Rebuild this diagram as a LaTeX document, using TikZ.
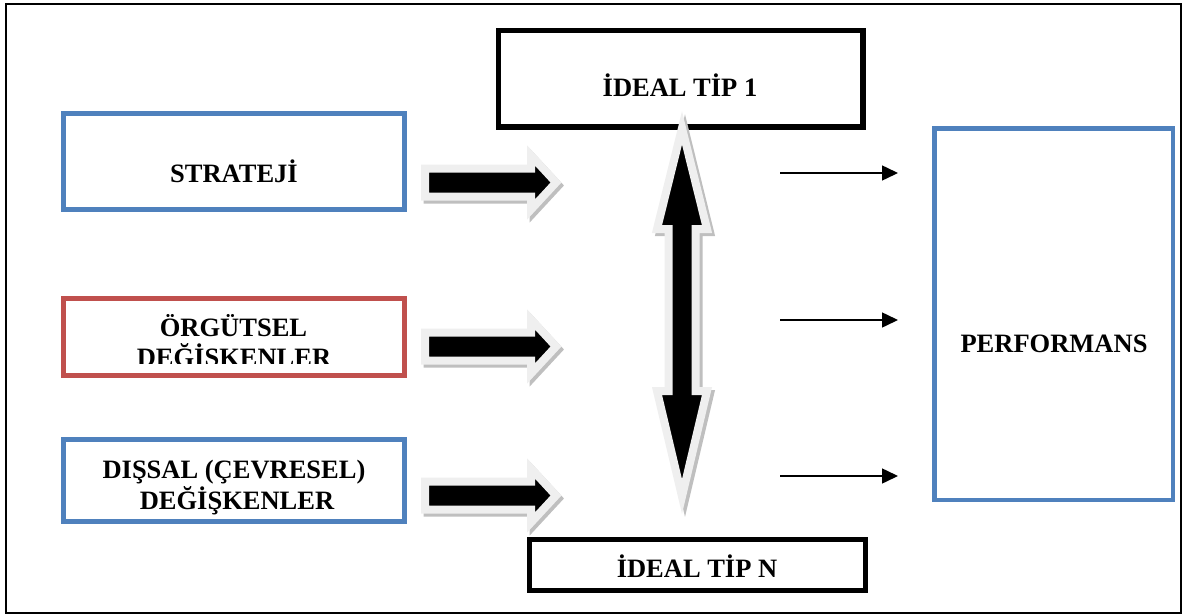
\documentclass[tikz,border=0pt]{standalone}
\usepackage{fontspec}
\setmainfont{Liberation Serif}
\usetikzlibrary{arrows.meta}
\definecolor{boxblue}{HTML}{4F81BD}
\definecolor{boxred}{HTML}{C0504D}
\definecolor{rim}{HTML}{EFEFEF}
\definecolor{shade}{HTML}{BFBFBF}
\begin{document}
\begin{tikzpicture}[x=1pt,y=-1pt,
  frame/.style={draw=black, line width=2pt},
  panel/.style={draw=#1, fill=white, inner sep=0pt, outer sep=0pt},
  bluepanel/.style={panel=boxblue, line width=4.5pt},
  redpanel/.style={panel=boxred, line width=5pt},
  blackpanel/.style={panel=black, line width=5.5pt},
  caption/.style={anchor=base, inner sep=0pt,
    font=\fontsize{26.5}{31}\selectfont\bfseries},
  link/.style={line width=1.5pt, -{Triangle[length=16pt,width=15pt]}},
  arrowshadow/.style={draw=shade, fill=shade, line width=8pt, line join=miter},
  arrowbody/.style={draw=rim, fill=black, line width=8pt, line join=miter},
  pics/blockarrow/.style={code={
    \begin{scope}[shift={(2.5,3)}]
      \path[arrowshadow] (-65.5,-14) -- (40.5,-14) -- (40.5,-27) -- (65.5,0)
        -- (40.5,27) -- (40.5,14) -- (-65.5,14) -- cycle;
    \end{scope}
    \path[arrowbody] (-65.5,-14) -- (40.5,-14) -- (40.5,-27) -- (65.5,0)
      -- (40.5,27) -- (40.5,14) -- (-65.5,14) -- cycle;
  }},
  pics/twowayarrow/.style={code={
    \begin{scope}[shift={(3,3)}]
      \path[arrowshadow] (0,-184.25) -- (25,-83.25) -- (13.5,-83.25)
        -- (13.5,78.75) -- (25,78.75) -- (0,184.25) -- (-25,78.75)
        -- (-13.5,78.75) -- (-13.5,-83.25) -- (-25,-83.25) -- cycle;
    \end{scope}
    \path[arrowbody] (0,-184.25) -- (25,-83.25) -- (13.5,-83.25)
      -- (13.5,78.75) -- (25,78.75) -- (0,184.25) -- (-25,78.75)
      -- (-13.5,78.75) -- (-13.5,-83.25) -- (-25,-83.25) -- cycle;
  }}
]
\useasboundingbox (0,0) rectangle (1187,616);
\draw[frame] (6,4) rectangle (1181,613);

% input boxes on the left
\node[bluepanel, minimum width=341pt, minimum height=96pt] (strateji) at (234,161.5) {};
\node[redpanel, minimum width=341pt, minimum height=77pt] (orgutsel) at (234,337) {};
\node[bluepanel, minimum width=341pt, minimum height=82pt] (dissal) at (234,480.5) {};

% ideal types and performance
\node[blackpanel, minimum width=364.5pt, minimum height=96.5pt] (tip1) at (680.75,78.75) {};
\node[blackpanel, minimum width=336pt, minimum height=51pt] (tipn) at (697.5,565) {};
\node[bluepanel, minimum width=238.5pt, minimum height=371.5pt] (perf) at (1053.75,314.25) {};

% box captions
\node[caption] (tstrateji) at (234,182) {STRATEJİ};
\node[caption] (torgutsel) at (233.5,336) {ÖRGÜTSEL};
\begin{scope}
  \clip (66,300) rectangle (402,363);
  \node[caption] (tdegisken) at (234,366) {DEĞİŞKENLER};
\end{scope}
\node[caption] (tdissal) at (234,478) {DIŞSAL (ÇEVRESEL)};
\node[caption] (tdegisken2) at (237,509) {DEĞİŞKENLER};
\node[caption] (ttip1) at (680,96) {İDEAL TİP 1};
\node[caption] (ttipn) at (697,577) {İDEAL TİP N};
\node[caption] (tperf) at (1054,352) {PERFORMANS};

% block arrows from the inputs
\pic (b1) at (490.5,182.5) {blockarrow};
\pic (b2) at (490.5,346.5) {blockarrow};
\pic (b3) at (490.5,495.5) {blockarrow};

% two-way arrow between the ideal types
\pic (tw) at (682,312.25) {twowayarrow};

% thin arrows towards performance
\coordinate (s1) at (780,173);
\coordinate (e1) at (898,173);
\coordinate (s2) at (780,320);
\coordinate (e2) at (898,320);
\coordinate (s3) at (780,476);
\coordinate (e3) at (898,476);
\draw[link] (s1) -- (e1);
\draw[link] (s2) -- (e2);
\draw[link] (s3) -- (e3);
\end{tikzpicture}
\end{document}
